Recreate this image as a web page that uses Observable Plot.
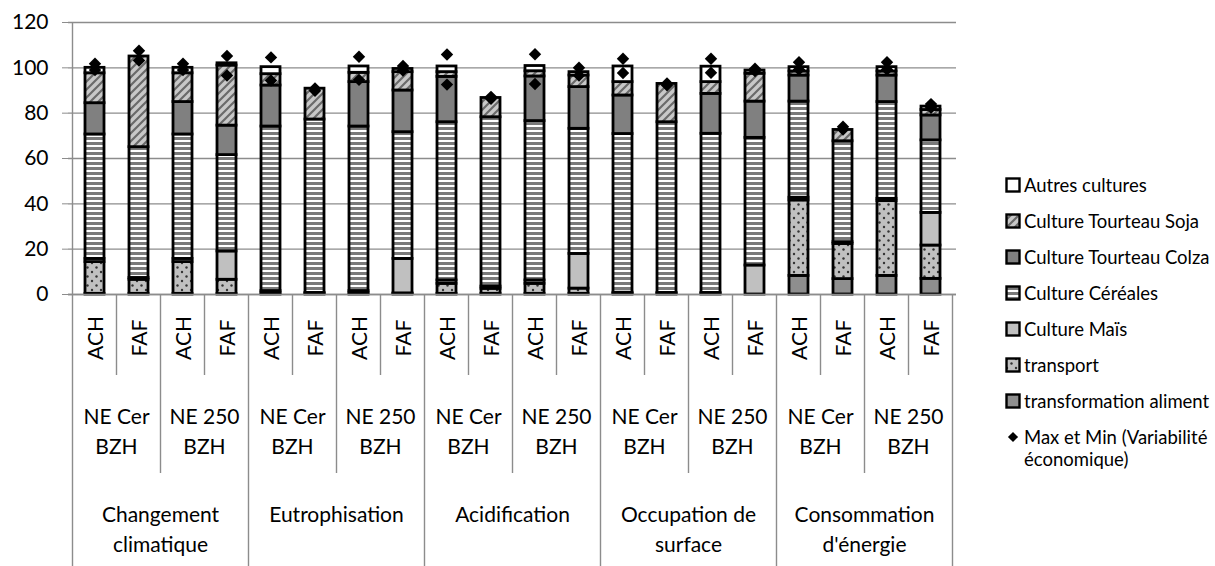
<!DOCTYPE html>
<html><head><meta charset="utf-8">
<script src="https://cdn.jsdelivr.net/npm/d3@7"></script>
<script src="https://cdn.jsdelivr.net/npm/@observablehq/plot@0.6"></script>
<style>
body{margin:0;background:#fff;font-family:Lato,sans-serif;}
#wrap{position:relative;width:1215px;height:566px;overflow:hidden;}
#legend{position:absolute;left:1005px;top:0;width:210px;height:566px;}
.li{position:absolute;left:0;display:flex;align-items:center;white-space:nowrap;font-size:18.5px;color:#000;line-height:22px;}
.li svg{margin-right:3px;flex:none;}
</style></head><body>
<svg width="0" height="0" style="position:absolute">
<defs>
<pattern id="p-soja" patternUnits="userSpaceOnUse" width="8" height="8">
<rect width="8" height="8" fill="#c8c8c8"/>
<path d="M-2,2 L2,-2 M0,8 L8,0 M6,10 L10,6" stroke="#6a6a6a" stroke-width="2.2"/>
</pattern>
<pattern id="p-cereales" patternUnits="userSpaceOnUse" width="5" height="5">
<rect width="5" height="5" fill="#7a7a7a"/>
<rect y="0" width="5" height="2" fill="#ffffff"/>
</pattern>
<pattern id="p-transport" patternUnits="userSpaceOnUse" width="9" height="9">
<rect width="9" height="9" fill="#c0c0c0"/>
<circle cx="2" cy="2" r="1.2" fill="#333"/>
<circle cx="6.5" cy="6.5" r="1.2" fill="#333"/>
</pattern>
</defs>
</svg>
<div id="wrap"><div id="legend"></div></div>
<script>
// ---- data ----
const impacts = ["Changement climatique", "Eutrophisation", "Acidification", "Occupation de surface", "Consommation d'énergie"];
const impactLines = [["Changement", "climatique"], ["Eutrophisation"], ["Acidification"], ["Occupation de", "surface"], ["Consommation", "d'énergie"]];
const systems = ["NE Cer BZH", "NE 250 BZH"];
const systemLines = [["NE Cer", "BZH"], ["NE 250", "BZH"]];
const feeds = ["ACH", "FAF"];
const yTicks = [0, 20, 40, 60, 80, 100, 120];

// stacked series, bottom to top; 20 bars in order impact > system > feed
const seriesNames = ["transformation aliment", "transport", "Culture Maïs", "Culture Céréales", "Culture Tourteau Colza", "Culture Tourteau Soja", "Autres cultures"];
const transformation = [0.3, 0.3, 0.3, 0.2, 0.5, 0.3, 0.5, 0.2, 0.3, 0.3, 0.3, 0.3, 0.3, 0.3, 0.3, 0, 8.2, 6.8, 8.2, 6.9];
const transport = [14.0, 6.2, 14.0, 6.3, 1.0, 0.4, 1.0, 0.3, 4.4, 2.2, 4.4, 2.3, 0.5, 0.4, 0.4, 0, 33.3, 15.5, 33.0, 14.7];
const mais = [1.4, 0.8, 1.4, 12.5, 0, 0, 0, 15.2, 1.5, 1.0, 1.5, 15.3, 0, 0, 0, 12.8, 1.2, 0.8, 1.0, 14.4];
const cereales = [54.9, 57.7, 54.9, 42.5, 72.6, 76.5, 72.6, 55.9, 69.8, 74.7, 70.3, 55.2, 70.0, 75.3, 70.2, 56.3, 42.4, 44.5, 42.7, 32.0];
const colza = [13.8, 0, 14.3, 13.0, 18.1, 0, 19.6, 18.4, 20.0, 0, 19.7, 18.4, 17.0, 0, 17.6, 16.0, 11.5, 0, 11.7, 11.0];
const soja = [13.2, 40.0, 12.7, 26.5, 5.0, 13.6, 4.1, 8.1, 2.1, 8.5, 2.3, 5.1, 5.9, 16.9, 5.2, 12.3, 1.8, 5.0, 1.8, 2.4];
const autres = [2.4, 0, 2.4, 1.0, 3.1, 0, 2.8, 1.4, 2.5, 0, 2.3, 1.5, 6.9, 0, 6.8, 1.4, 1.9, 0, 1.9, 1.5];
const maxVals = [101.8, 107.5, 101.8, 105.2, 104.6, 90.9, 104.9, 100.8, 105.9, 87.2, 106.0, 100.0, 104.0, 93.1, 104.0, 99.6, 102.5, 74.0, 102.5, 84.0];
const minVals = [99.0, 103.2, 99.0, 96.6, 94.4, 89.9, 94.7, 98.8, 92.6, 86.4, 92.9, 96.6, 97.7, 92.3, 97.8, 98.6, 99.3, 72.8, 99.3, 82.4];
const markerName = "Max et Min (Variabilité économique)";

// ---- build tables ----
const seriesValues = [transformation, transport, mais, cereales, colza, soja, autres];
const seriesFills = ["#8e8e8e", "url(#p-transport)", "#c0c0c0", "url(#p-cereales)", "#808080", "url(#p-soja)", "#ffffff"];
const bars = [];
impacts.forEach((imp, c) => systems.forEach((sys, s) => feeds.forEach((feed, f) => {
  bars.push({key: `${c}|${s}|${f}`, impact: imp, system: sys, feed, c, s, f});
})));
const segs = [];
bars.forEach((b, i) => seriesNames.forEach((name, j) => {
  const v = seriesValues[j][i];
  if (v > 0) segs.push({key: b.key, series: name, value: v});
}));
const marks = [];
bars.forEach((b, i) => {
  marks.push({key: b.key, value: maxVals[i]});
  marks.push({key: b.key, value: minVals[i]});
});

const W = 1215, H = 566;
const chart = Plot.plot({
  width: W, height: H,
  marginLeft: 68, marginRight: 259, marginTop: 22, marginBottom: 272,
  style: {fontFamily: "Lato, sans-serif", fontSize: "21px", background: "white", color: "black"},
  x: {domain: bars.map(b => b.key), paddingInner: 0.57, paddingOuter: 0.285, axis: null},
  y: {domain: [0, 120], axis: null},
  color: {type: "ordinal", domain: seriesNames, range: seriesFills},
  marks: [
    Plot.gridY(yTicks, {stroke: "#8c8c8c", strokeOpacity: 1, strokeWidth: 1.4}),
    Plot.axisY({ticks: yTicks, label: null, tickSize: 6, tickPadding: 14, stroke: "#8c8c8c", fill: "black", fontSize: 21, tickFormat: d => d}),
    Plot.barY(segs, {x: "key", y: "value", fill: "series", stroke: "black", strokeWidth: 2.8}),
    Plot.ruleY([0], {stroke: "#8c8c8c", strokeWidth: 1.4}),
    Plot.dot(marks, {x: "key", y: "value", symbol: "diamond2", r: 5.6, fill: "black", stroke: "none"})
  ]
});

// hierarchical category axis drawn with the plot's own scales
const xs = chart.scale("x"), ys = chart.scale("y");
const keys = xs.domain;
const gap = xs.step - xs.bandwidth;
const edge = i => i < keys.length ? xs.apply(keys[i]) - gap / 2 : xs.apply(keys[keys.length - 1]) + xs.bandwidth + gap / 2;
const y0 = ys.apply(0), yTop = ys.apply(120);
const svg = d3.select(chart);
const g = svg.append("g").attr("font-family", "Lato, sans-serif").attr("font-size", 21).attr("fill", "black");
for (let i = 0; i <= keys.length; i++) {
  const y2 = (i % 4 === 0) ? H : (i % 2 === 0 ? y0 + 179 : y0 + 81);
  g.append("line").attr("x1", edge(i)).attr("x2", edge(i))
    .attr("y1", i === 0 ? yTop : y0).attr("y2", y2)
    .attr("stroke", "#8c8c8c").attr("stroke-width", 1.4);
}
bars.forEach((b, i) => {
  const cx = xs.apply(b.key) + xs.bandwidth / 2, cy = y0 + 44;
  g.append("text").attr("transform", `translate(${cx},${cy}) rotate(-90)`)
    .attr("text-anchor", "middle").attr("dominant-baseline", "central").text(b.feed);
});
for (let p = 0; p < keys.length / 2; p++) {
  const cx = (edge(2 * p) + edge(2 * p + 2)) / 2;
  systemLines[p % 2].forEach((line, k) => {
    g.append("text").attr("x", cx).attr("y", y0 + 121 + 30 * k)
      .attr("text-anchor", "middle").attr("dominant-baseline", "central").text(line);
  });
}
impactLines.forEach((lines, c) => {
  const cx = (edge(4 * c) + edge(4 * c + 4)) / 2;
  lines.forEach((line, k) => {
    g.append("text").attr("x", cx).attr("y", y0 + 219 + 30 * k)
      .attr("text-anchor", "middle").attr("dominant-baseline", "central").text(line);
  });
});

const wrap = document.getElementById("wrap");
wrap.insertBefore(chart, wrap.firstChild);

// legend (top to bottom, as in the original)
const legend = document.getElementById("legend");
const legendOrder = seriesNames.map((n, j) => ({name: n, fill: seriesFills[j]})).reverse();
const lgTop = 185, lgStep = 36;
legendOrder.forEach((it, k) => {
  const d = document.createElement("div");
  d.className = "li";
  d.style.top = (lgTop + lgStep * k - 11) + "px";
  d.innerHTML = `<svg width="16" height="16"><rect x="1.5" y="1.5" width="13" height="13" fill="${it.fill}" stroke="black" stroke-width="2.4"/></svg><span>${it.name}</span>`;
  legend.appendChild(d);
});
{
  const d = document.createElement("div");
  d.className = "li";
  d.style.top = (lgTop + lgStep * 7 - 11) + "px";
  d.style.alignItems = "flex-start";
  const path = d3.symbol(d3.symbolDiamond2, 4.6 * 4.6 * Math.PI)();
  d.innerHTML = `<svg width="16" height="22"><path transform="translate(8,11)" d="${path}" fill="black"/></svg><span>Max et Min (Variabilité<br>économique)</span>`;
  legend.appendChild(d);
}
</script>
</body></html>
